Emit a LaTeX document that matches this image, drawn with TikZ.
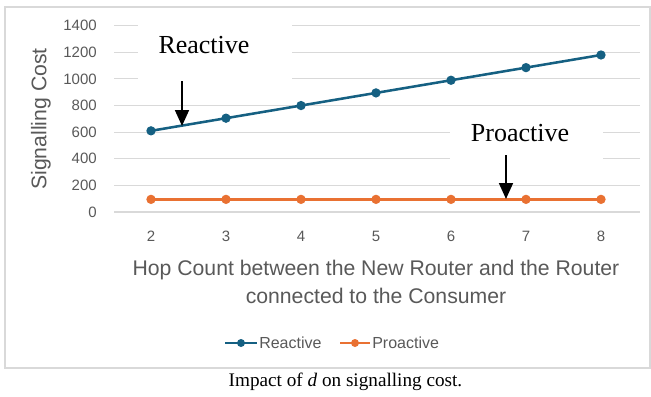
\documentclass[tikz,border=0pt]{standalone}
\usepackage{fontspec}
\setmainfont{Liberation Serif}
\setsansfont{Liberation Sans}
\usetikzlibrary{arrows.meta}

\definecolor{reactblue}{HTML}{156082}
\definecolor{proorange}{HTML}{E97132}
\definecolor{gridgray}{HTML}{D9D9D9}
\definecolor{labelgray}{HTML}{595959}

\tikzset{
  gridline/.style={draw=gridgray, line width=0.8pt},
  ticklabel/.style={font=\sffamily\fontsize{11.25}{13}\selectfont, text=labelgray, inner sep=0pt},
  axistitle/.style={font=\sffamily\fontsize{15.9}{21}\selectfont, text=labelgray, inner sep=0pt},
  legendtext/.style={font=\sffamily\fontsize{12}{13}\selectfont, text=labelgray, inner sep=0pt, anchor=west},
  series/.style={line width=1.9pt, line cap=round, line join=round},
  dot/.style={circle, fill=#1, draw=none, minimum size=7pt, inner sep=0pt},
  callout/.style={font=\fontsize{19.5}{22}\selectfont, inner sep=0pt},
  pointer/.style={line width=1.3pt, -{Triangle[width=10.5pt,length=12pt]}},
}

\begin{document}
\begin{tikzpicture}[x=0.75pt, y=-0.75pt]
  \useasboundingbox (0,0) rectangle (651,397);
  \fill[white] (0,0) rectangle (651,397);

  % chart frame
  \draw[gridgray, line width=0.8pt] (5,7) rectangle (650,368);

  % horizontal gridlines and value labels
  \foreach \v in {0,200,...,1400} {
    \draw[gridline] (114,{212-0.13307*\v}) -- (640,{212-0.13307*\v});
    \node[ticklabel, anchor=east] (yt\v) at (97,{212-0.13307*\v}) {\v};
  }

  % hop-count labels
  \foreach \h in {2,...,8} {
    \node[ticklabel] (xt\h) at ({151+75*(\h-2)},236) {\h};
  }

  % axis titles
  \node[axistitle, rotate=90] (ytitle) at (41,119) {Signalling Cost};
  \node[axistitle, align=center] (xtitle) at (376,282)
    {Hop Count between the New Router and the Router\\connected to the Consumer};

  % white panels behind the callouts
  \fill[white] (138,15) rectangle (292,95);
  \fill[white] (450,106) rectangle (603,178);

  % data series
  \foreach \h/\r in {2/610,3/705,4/800,5/895,6/990,7/1085,8/1180} {
    \coordinate (r\h) at ({151+75*(\h-2)},{212-0.13307*\r});
    \coordinate (p\h) at ({151+75*(\h-2)},{212-0.13307*95});
  }
  \draw[series, reactblue] (r2) -- (r3) -- (r4) -- (r5) -- (r6) -- (r7) -- (r8);
  \draw[series, proorange] (p2) -- (p3) -- (p4) -- (p5) -- (p6) -- (p7) -- (p8);
  \foreach \h in {2,...,8} {
    \node[dot=reactblue] (rd\h) at (r\h) {};
    \node[dot=proorange] (pd\h) at (p\h) {};
  }

  % callouts
  \node[callout] (reactlbl) at (204,45) {Reactive};
  \coordinate (reacttop) at (182,81);
  \coordinate (reacttip) at (182,126);
  \draw[pointer] (reacttop) -- (reacttip);

  \node[callout] (prolbl) at (520,133) {Proactive};
  \coordinate (protop) at (506,155);
  \coordinate (protip) at (506,199);
  \draw[pointer] (protop) -- (protip);

  % legend
  \coordinate (lgrA) at (225,343);
  \coordinate (lgrB) at (257,343);
  \draw[series, reactblue, line cap=butt] (lgrA) -- (lgrB);
  \node[dot=reactblue, minimum size=6pt] (lgrdot) at (241,343) {};
  \node[legendtext] (lgrtext) at (259,343) {Reactive};

  \coordinate (lgpA) at (340,343);
  \coordinate (lgpB) at (370,343);
  \draw[series, proorange, line cap=butt] (lgpA) -- (lgpB);
  \node[dot=proorange, minimum size=6pt] (lgpdot) at (355,343) {};
  \node[legendtext] (lgptext) at (372,343) {Proactive};

  % caption
  \node[font=\fontsize{14.4}{16}\selectfont, inner sep=0pt] (caption) at (345.5,382)
    {Impact of \textit{d} on signalling cost.};
\end{tikzpicture}
\end{document}
